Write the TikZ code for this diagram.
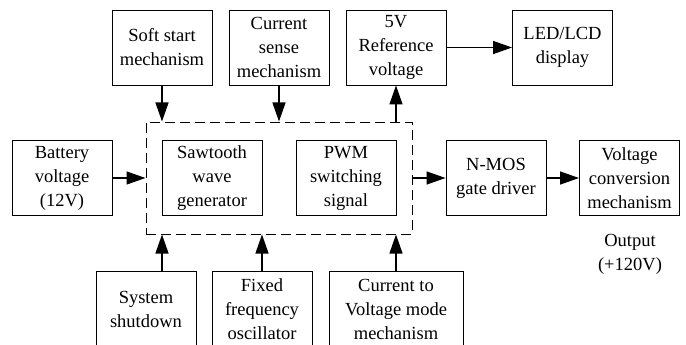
\documentclass[tikz,border=0pt]{standalone}
\usepackage{fontspec}
\setmainfont{Liberation Serif}
\usetikzlibrary{arrows.meta}
\begin{document}
\begin{tikzpicture}[x=1pt,y=-1pt,
  box/.style={draw, line width=0.9pt, minimum width=100pt, minimum height=75pt, align=center, inner sep=0pt,
    font=\fontsize{18.5}{24}\selectfont},
  arr/.style={line width=1.3pt, -{Triangle[length=19pt,width=13pt]}},
  dashbox/.style={draw, line width=1pt, dash pattern=on 10pt off 5pt, minimum width=266pt, minimum height=112pt, inner sep=0pt}]
\useasboundingbox (0,0) rectangle (686,345);
% top row
\node[box] (ss)  at (162,47.5) {Soft start\\mechanism};
\node[box] (cs)  at (279,47.5) {Current\\sense\\mechanism};
\node[box] (ref) at (396,47.5) {5V\\Reference\\voltage};
\node[box] (led) at (562.5,47.5) {LED/LCD\\display};
% middle row
\node[dashbox] (ctrl) at (279,178) {};
\node[box] (bat) at (62,178) {Battery\\voltage\\(12V)};
\node[box] (saw) at (212,178) {Sawtooth\\wave\\generator};
\node[box] (pwm) at (346,178) {PWM\\switching\\signal};
\node[box] (nmos) at (496,178) {N-MOS\\gate driver};
\node[box] (vc) at (629.5,178) {Voltage\\conversion\\mechanism};
\node[align=center, font=\fontsize{18.5}{24}\selectfont] (out) at (630,254) {Output\\(+120V)};
% bottom row
\node[box] (sys) at (146,309) {System\\shutdown};
\node[box] (fix) at (262,309) {Fixed\\frequency\\oscillator};
\node[box, minimum width=134pt] (ctv) at (396,309) {Current to\\Voltage mode\\mechanism};
% connectors
\coordinate (refin) at (ref.south |- ctrl.north);
\draw[arr] (ss.south) -- (ss.south |- ctrl.north);
\draw[arr] (cs.south) -- (cs.south |- ctrl.north);
\draw[arr] (refin) -- (ref.south);
\draw[arr] (ref.east) -- (led.west);
\draw[arr] (bat.east) -- (bat.east -| ctrl.west);
\draw[arr] (nmos.west -| ctrl.east) -- (nmos.west);
\draw[arr] (nmos.east) -- (vc.west);
\draw[arr] (sys.north -| ss.south) -- (ss.south |- ctrl.south);
\draw[arr] (fix.north) -- (fix.north |- ctrl.south);
\draw[arr] (ctv.north) -- (ctv.north |- ctrl.south);
\end{tikzpicture}
\end{document}
